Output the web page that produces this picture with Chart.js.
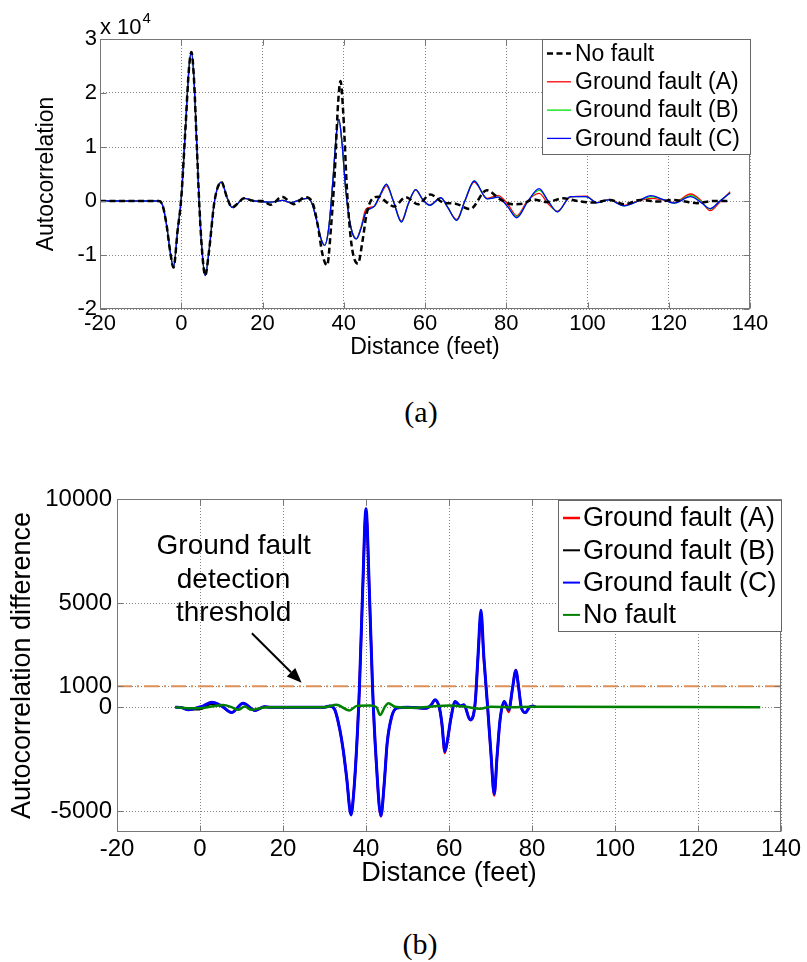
<!DOCTYPE html>
<html>
<head>
<meta charset="utf-8">
<script src="https://cdn.jsdelivr.net/npm/chart.js@4.4.0/dist/chart.umd.min.js"></script>
<style>
  body { margin: 0; background: #fff; width: 807px; height: 962px; position: relative; overflow: hidden; }
  canvas { position: absolute; left: 0; }
  #chartAuto { top: 0; }
  #chartDiff { top: 470px; }
  .caption { position: absolute; width: 100px; text-align: center; font-family: "Liberation Serif", "Times New Roman", serif; font-size: 30px; line-height: 30px; color: #000; }
</style>
</head>
<body>
<canvas id="chartAuto" width="807" height="380"></canvas>
<div class="caption" style="left:371px; top:397px;">(a)</div>
<canvas id="chartDiff" width="807" height="430"></canvas>
<div class="caption" style="left:370px; top:929px;">(b)</div>
<script>
"use strict";

// ---------- (a) autocorrelation, values in units of 10^4 ----------
const distFault = [
    -20, -5.5, -4.6, -3.6, -2.7, -1.9, -0.9, 0, 1.0, 1.9,
    2.5, 3.1, 3.9, 4.4, 5.1, 5.9, 6.8, 8.2, 9.9, 11.2,
    12.5, 14, 15.4, 18, 22, 25, 27, 29.5, 31.2, 32.2,
    33.3, 34.5, 35.3, 36.3, 37.3, 38.2, 38.8, 39.6, 40.5, 41.8,
    43.1, 44.2, 45.5, 47.5, 49, 50.5, 52.2, 54.2, 55.9, 57.7,
    59.5, 61.2, 63.9, 65.6, 67.8, 69.8, 72.1, 75.3, 78, 80.3,
    82.6, 85.2, 88.1, 90.3, 92.6, 95.8, 99.6, 102.4, 105.3, 109,
    112.5, 115.6, 118.5, 121.3, 125.4, 127.8, 130.2, 132.6, 135.1
];
const autoFaultA = [
    0, 0, -0.08, -0.45, -0.95, -1.23, -0.55, 0.05, 1.3, 2.45,
    2.76, 2.3, 0.9, 0, -0.9, -1.38, -0.95, 0, 0.35, 0.08,
    -0.12, -0.04, 0.05, 0, -0.02, 0.01, -0.03, 0.03, 0.05, -0.05,
    -0.35, -0.72, -0.82, -0.5, 0.35, 1.25, 1.51, 1.05, 0.2, -0.5,
    -0.70, -0.5, -0.15, -0.1, 0.1, 0.28, 0, -0.37, -0.05, 0.2,
    0.02, -0.07, 0.06, -0.12, -0.34, 0, 0.35, 0.05, 0.1, -0.05,
    -0.27, 0, 0.14, -0.05, -0.19, 0.07, 0.09, -0.03, 0.03, -0.08,
    0, 0.05, 0.02, -0.03, 0.13, 0.02, -0.18, -0.02, 0.17
];
const autoFaultB = [
    0, 0, -0.08, -0.45, -0.95, -1.23, -0.55, 0.05, 1.3, 2.45,
    2.76, 2.3, 0.9, 0, -0.9, -1.38, -0.95, 0, 0.35, 0.08,
    -0.12, -0.04, 0.05, 0, -0.02, 0.01, -0.03, 0.03, 0.05, -0.05,
    -0.35, -0.72, -0.82, -0.5, 0.35, 1.25, 1.51, 1.05, 0.2, -0.5,
    -0.70, -0.52, -0.2, -0.1, 0.12, 0.31, 0, -0.39, -0.05, 0.21,
    0.02, -0.08, 0.06, -0.12, -0.36, 0, 0.37, 0.04, 0.07, -0.1,
    -0.29, -0.02, 0.2, 0, -0.2, 0.08, 0.08, -0.03, 0.02, -0.09,
    0, 0.08, 0.03, -0.04, 0.1, 0, -0.15, 0, 0.15
];
const autoFaultC = [
    0, 0, -0.08, -0.45, -0.95, -1.23, -0.55, 0.05, 1.3, 2.45,
    2.76, 2.3, 0.9, 0, -0.9, -1.38, -0.95, 0, 0.35, 0.08,
    -0.12, -0.04, 0.05, 0, -0.02, 0.01, -0.03, 0.03, 0.05, -0.05,
    -0.35, -0.72, -0.82, -0.5, 0.35, 1.25, 1.51, 1.05, 0.2, -0.5,
    -0.70, -0.52, -0.2, -0.1, 0.12, 0.31, 0, -0.39, -0.05, 0.21,
    0.02, -0.08, 0.06, -0.12, -0.36, 0, 0.37, 0.04, 0.07, -0.1,
    -0.31, -0.02, 0.23, 0, -0.2, 0.08, 0.08, -0.03, 0.02, -0.09,
    0, 0.10, 0.03, -0.04, 0.08, -0.02, -0.14, 0, 0.15
];
const distNoFault = [
    -20, -5.5, -4.6, -3.6, -2.7, -1.9, -0.9, 0, 1.0, 1.9,
    2.5, 3.1, 3.9, 4.4, 5.1, 5.9, 6.8, 8.2, 9.9, 11.2,
    12.5, 14, 15.4, 18, 20, 22, 24.8, 27.7, 30.5, 32.4,
    33.6, 34.8, 35.9, 36.9, 37.8, 38.6, 39.2, 39.9, 40.8, 41.9,
    43.5, 44.6, 45.6, 46.8, 48.6, 50.5, 52.3, 55.3, 58.3, 61.3,
    64.5, 67.5, 71.1, 75.2, 78.5, 81.5, 84, 86.7, 90, 94,
    97.5, 101.6, 105.5, 109, 113, 117.5, 121, 124, 127, 131,
    135
];
const autoNoFault = [
    0, 0, -0.08, -0.45, -0.95, -1.23, -0.55, 0.05, 1.3, 2.45,
    2.76, 2.3, 0.9, 0, -0.9, -1.38, -0.95, 0, 0.35, 0.08,
    -0.12, -0.04, 0.05, 0, 0, -0.07, 0.08, -0.06, 0.07, -0.05,
    -0.45, -1.0, -1.19, -0.45, 0.55, 1.8, 2.22, 1.6, 0.2, -0.8,
    -1.16, -0.75, -0.25, 0.02, 0.08, -0.02, -0.1, 0.07, -0.06, 0.12,
    -0.03, -0.05, -0.15, 0.2, 0.03, -0.06, -0.05, 0.03, -0.02, 0.05,
    0, -0.03, 0.02, -0.06, 0.02, -0.01, 0.02, -0.01, -0.04, 0,
    0
];

// ---------- (b) autocorrelation difference ----------
const distDiff = [
    -6, -4.5, -2.8, -1, 0.5, 2.8, 5.2, 7.6, 10.4, 13.3,
    15.5, 17, 30, 31.3, 32.5, 33.7, 34.5, 35.3, 36.4, 37.1,
    37.8, 38.4, 39.2, 40.0, 40.8, 41.6, 42.4, 43.6, 44.4, 45.1,
    46.2, 47.4, 50, 54.6, 55.7, 56.6, 57.7, 58.3, 59.0, 59.7,
    60.4, 61.5, 62.7, 63.6, 65.1, 66.3, 67.0, 67.7, 68.4, 69.3,
    70.1, 70.9, 71.6, 72.3, 73.3, 74.4, 75.3, 76.1, 76.8, 77.4,
    78.4, 79.4, 80.2, 80.8
];
const diffFaultA = [
    0, -20, -130, -50, 30, 240, 60, -260, 190, -160,
    20, 0, 0, 60, -130, -1100, -2050, -3300, -5150, -3950,
    -1730, 830, 5600, 9450, 5600, 830, -2400, -5250, -3650, -1730,
    -450, -50, 0, -50, 100, 330, -50, -850, -2200, -1550,
    -620, 260, 60, 100, -620, 180, 2400, 4400, 2300, 0,
    -2250, -4250, -2350, -640, 250, -230, 900, 1800, 950, 0,
    -260, 0, 60, 0
];
const diffFaultB = [
    0, -30, -110, -120, -80, 150, 40, -260, 190, -160,
    20, 0, 0, 60, -130, -1090, -2050, -3330, -5180, -3970,
    -1730, 830, 5640, 9535, 5640, 830, -2370, -5220, -3650, -1730,
    -450, -50, 0, -50, 100, 350, -50, -800, -2130, -1500,
    -600, 270, 60, 110, -610, 190, 2500, 4650, 2400, 30,
    -2200, -4170, -2300, -610, 270, -130, 900, 1760, 900, 0,
    -260, 0, 60, 0
];
const diffFaultC = [
    0, -20, -130, -50, 30, 240, 60, -260, 190, -160,
    20, 0, 0, 60, -130, -1090, -2050, -3330, -5180, -3970,
    -1730, 830, 5640, 9535, 5640, 830, -2370, -5220, -3650, -1730,
    -450, -50, 0, -50, 100, 350, -50, -800, -2130, -1500,
    -600, 270, 60, 110, -610, 190, 2500, 4650, 2400, 30,
    -2200, -4170, -2300, -610, 270, -130, 900, 1760, 900, 0,
    -260, 0, 60, 0
];
const distDiffNoFault = [
    -6, -3, 0, 2.8, 5.6, 7.6, 9.2, 10.8, 12.4, 14.5,
    16, 30, 32.9, 36, 37.8, 41, 42.5, 43.4, 44.5, 45.4,
    47, 52, 56, 60, 64, 67.5, 70, 75, 80, 135
];
const diffNoFault = [
    0, -50, -50, 30, 100, 0, -130, 30, -130, -50,
    0, 0, 110, -160, 60, 80, 0, -380, 0, 190,
    20, -30, 30, 80, 20, -80, 20, 0, 20, 0
];
const thresholdDist = [-20, 140];
const thresholdLevel = [1000, 1000];

// tick labels
const xTicks = [-20, 0, 20, 40, 60, 80, 100, 120, 140];
const yTicksAuto = [-2, -1, 0, 1, 2, 3];
const yTicksDiff = [-5000, 0, 1000, 5000, 10000];

const FONT = '"Liberation Sans", Arial, sans-serif';
Chart.defaults.font.family = FONT;
Chart.defaults.color = "#000";

function toPoints(xs, ys) {
    return xs.map((x, i) => ({ x: x, y: ys[i] }));
}

function fixedTicks(list) {
    return (scale) => {
        scale.ticks = list.map((v) => ({ value: v }));
    };
}

function lineSet(label, xs, ys, color, width, extra) {
    return Object.assign({
        label: label,
        data: toPoints(xs, ys),
        borderColor: color,
        backgroundColor: color,
        borderWidth: width,
        pointRadius: 0,
        fill: false,
        cubicInterpolationMode: "monotone",
    }, extra || {});
}

/**
 * Marco tipo MATLAB con marcas hacia dentro
 */
const framePlugin = {
    id: "frame",
    afterDatasetsDraw(chart) {
        const { ctx, chartArea: a, scales } = chart;
        const l = Math.round(a.left) + 0.5;
        const r = Math.round(a.right) - 0.5;
        const t = Math.round(a.top) + 0.5;
        const b = Math.round(a.bottom) - 0.5;
        ctx.save();
        ctx.strokeStyle = "#777";
        ctx.lineWidth = 1;
        ctx.setLineDash([]);
        ctx.strokeRect(l, t, r - l, b - t);
        ctx.beginPath();
        scales.x.ticks.forEach((tk) => {
            const px = Math.round(scales.x.getPixelForValue(tk.value)) + 0.5;
            ctx.moveTo(px, b); ctx.lineTo(px, b - 6);
            ctx.moveTo(px, t); ctx.lineTo(px, t + 6);
        });
        scales.y.ticks.forEach((tk) => {
            const py = Math.round(scales.y.getPixelForValue(tk.value)) + 0.5;
            ctx.moveTo(l, py); ctx.lineTo(l + 6, py);
            ctx.moveTo(r, py); ctx.lineTo(r - 6, py);
        });
        ctx.stroke();
        ctx.restore();
    },
};

/**
 * Leyenda dentro del area del grafico
 */
const legendBoxPlugin = {
    id: "legendBox",
    afterDraw(chart, args, o) {
        const ctx = chart.ctx;
        const items = chart.data.datasets.filter((d) => !d.skipLegend);
        ctx.save();
        ctx.fillStyle = "#fff";
        ctx.fillRect(o.x, o.y, o.w, o.h);
        ctx.strokeStyle = "#666";
        ctx.lineWidth = 1;
        ctx.strokeRect(o.x + 0.5, o.y + 0.5, o.w, o.h);
        ctx.font = o.size + "px " + FONT;
        ctx.textBaseline = "middle";
        ctx.textAlign = "left";
        items.forEach((d, i) => {
            const y = o.y + o.first + i * o.step;
            ctx.strokeStyle = d.borderColor;
            ctx.lineWidth = d.legendWidth || d.borderWidth;
            ctx.setLineDash(d.borderDash || []);
            ctx.beginPath();
            ctx.moveTo(o.x + o.lx0, y);
            ctx.lineTo(o.x + o.lx1, y);
            ctx.stroke();
            ctx.setLineDash([]);
            ctx.fillStyle = "#000";
            ctx.fillText(d.label, o.x + o.tx, y + 1);
        });
        ctx.restore();
    },
};

const expPlugin = {
    id: "exponent",
    afterDraw(chart) {
        const { ctx, chartArea: a } = chart;
        ctx.save();
        ctx.fillStyle = "#000";
        ctx.textBaseline = "alphabetic";
        ctx.textAlign = "left";
        ctx.font = "22px " + FONT;
        ctx.fillText("x 10", a.left, 34);
        const w = ctx.measureText("x 10").width;
        ctx.font = "15px " + FONT;
        ctx.fillText("4", a.left + w + 1, 23);
        ctx.restore();
    },
};

const notePlugin = {
    id: "note",
    afterDatasetsDraw(chart) {
        const { ctx, scales: { x, y } } = chart;
        const lines = ["Ground fault", "detection", "threshold"];
        const levels = [7710, 6110, 4520];
        ctx.save();
        ctx.fillStyle = "#000";
        ctx.font = "28px " + FONT;
        ctx.textAlign = "center";
        ctx.textBaseline = "middle";
        const cx = x.getPixelForValue(8.1);
        lines.forEach((txt, i) => ctx.fillText(txt, cx, y.getPixelForValue(levels[i])));

        const x0 = x.getPixelForValue(12.5), y0 = y.getPixelForValue(3550);
        const x1 = x.getPixelForValue(24.5), y1 = y.getPixelForValue(1170);
        const ang = Math.atan2(y1 - y0, x1 - x0);
        const head = 15, half = 6;
        ctx.strokeStyle = "#000";
        ctx.lineWidth = 2;
        ctx.beginPath();
        ctx.moveTo(x0, y0);
        ctx.lineTo(x1 - head * Math.cos(ang), y1 - head * Math.sin(ang));
        ctx.stroke();
        ctx.beginPath();
        ctx.moveTo(x1, y1);
        ctx.lineTo(x1 - head * Math.cos(ang) + half * Math.sin(ang), y1 - head * Math.sin(ang) - half * Math.cos(ang));
        ctx.lineTo(x1 - head * Math.cos(ang) - half * Math.sin(ang), y1 - head * Math.sin(ang) + half * Math.cos(ang));
        ctx.closePath();
        ctx.fill();
        ctx.restore();
    },
};

function axisX(tickSize, titleSize, height, pad) {
    return {
        type: "linear",
        min: -20,
        max: 140,
        afterBuildTicks: fixedTicks(xTicks),
        afterFit: (s) => { s.height = height; },
        ticks: { font: { size: tickSize }, padding: pad, maxRotation: 0, autoSkip: false, callback: (v) => String(v) },
        grid: { color: "#858585", lineWidth: 1, drawTicks: false },
        border: { display: false, dash: [1, 2] },
        title: { display: true, text: "Distance (feet)", font: { size: titleSize }, padding: { top: 4, bottom: 4 } },
    };
}

function axisY(min, max, list, title, tickSize, titleSize, width, pad) {
    return {
        type: "linear",
        min: min,
        max: max,
        afterBuildTicks: fixedTicks(list),
        afterFit: (s) => { s.width = width; },
        ticks: { font: { size: tickSize }, padding: pad, autoSkip: false, callback: (v) => String(v) },
        grid: { color: "#858585", lineWidth: 1, drawTicks: false },
        border: { display: false, dash: [1, 2] },
        title: { display: true, text: title, font: { size: titleSize }, padding: { top: 4, bottom: 4 } },
    };
}

/**
 * Grafica (a)
 */
new Chart(document.querySelector("#chartAuto"), {
    type: "line",
    data: {
        datasets: [
            lineSet("No fault", distNoFault, autoNoFault, "#000000", 2.5, { borderDash: [6, 3.5], order: 0 }),
            lineSet("Ground fault (A)", distFault, autoFaultA, "#ff0000", 1.3, { order: 3 }),
            lineSet("Ground fault (B)", distFault, autoFaultB, "#00e000", 1.3, { order: 2 }),
            lineSet("Ground fault (C)", distFault, autoFaultC, "#0000ff", 1.3, { order: 1 }),
        ],
    },
    options: {
        responsive: false,
        animation: false,
        devicePixelRatio: 1,
        layout: { padding: { left: 29, right: 57, top: 39, bottom: 15 } },
        scales: {
            x: axisX(22, 23, 56, 2),
            y: axisY(-2, 3, yTicksAuto, "Autocorrelation", 22, 23, 71, 3),
        },
        plugins: {
            legend: { display: false },
            tooltip: { enabled: false },
            legendBox: { x: 542, y: 39, w: 208, h: 115, first: 14.5, step: 28.3, lx0: 5, lx1: 29, tx: 33, size: 23 },
        },
    },
    plugins: [framePlugin, legendBoxPlugin, expPlugin],
});

/**
 * Grafica (b)
 */
new Chart(document.querySelector("#chartDiff"), {
    type: "line",
    data: {
        datasets: [
            lineSet("Ground fault (A)", distDiff, diffFaultA, "#ff0000", 2.5, { order: 3 }),
            lineSet("Ground fault (B)", distDiff, diffFaultB, "#000000", 2, { order: 2 }),
            lineSet("Ground fault (C)", distDiff, diffFaultC, "#0000ff", 3, { order: 1, legendWidth: 2 }),
            lineSet("No fault", distDiffNoFault, diffNoFault, "#008000", 2.5, { order: 0, legendWidth: 2 }),
            lineSet("threshold", thresholdDist, thresholdLevel, "#dd9158", 2, { order: 4, borderDash: [15, 5, 2, 5], skipLegend: true }),
        ],
    },
    options: {
        responsive: false,
        animation: false,
        devicePixelRatio: 1,
        layout: { padding: { left: 2, right: 26, top: 29, bottom: 6 } },
        scales: {
            x: axisX(24, 27, 62, 3),
            y: axisY(-6000, 10000, yTicksDiff, "Autocorrelation difference", 24, 27, 115, 5),
        },
        plugins: {
            legend: { display: false },
            tooltip: { enabled: false },
            legendBox: { x: 558, y: 30, w: 223, h: 131, first: 18, step: 32.3, lx0: 5, lx1: 22, tx: 25, size: 27 },
        },
    },
    plugins: [framePlugin, notePlugin, legendBoxPlugin],
});
</script>
</body>
</html>
